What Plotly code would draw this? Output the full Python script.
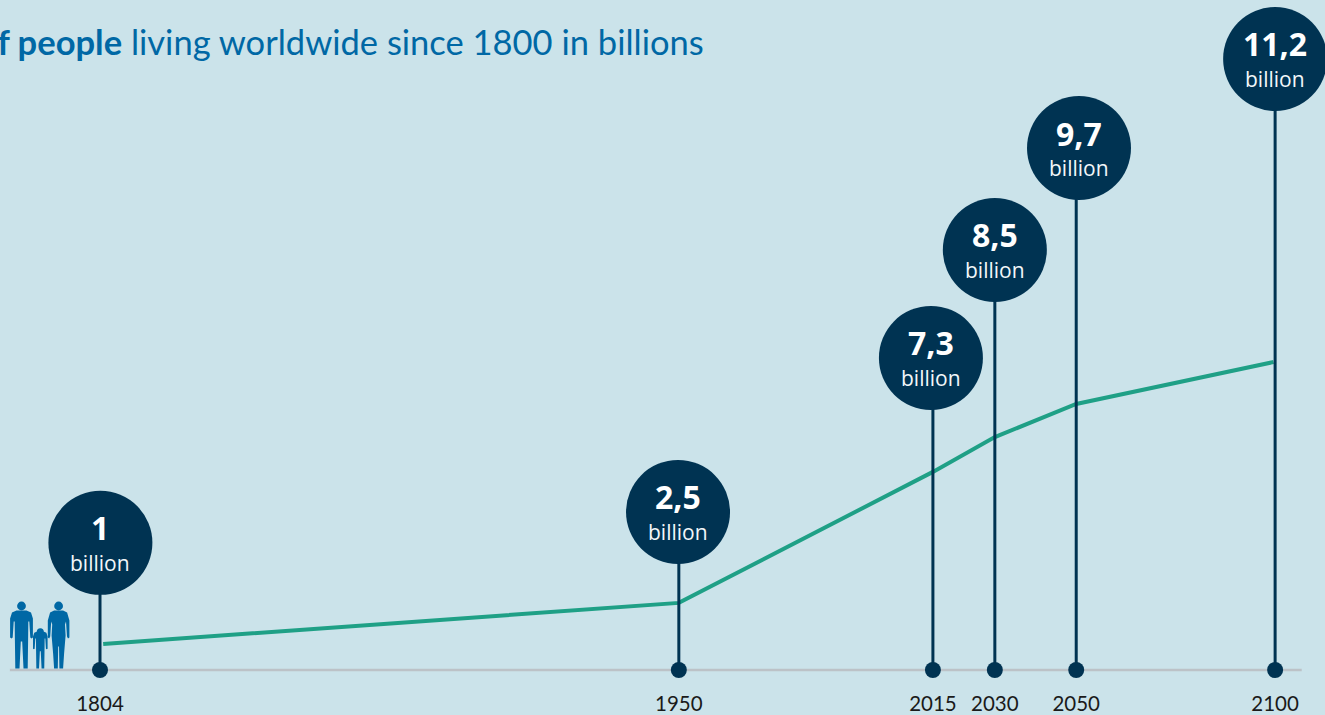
import plotly.graph_objects as go

# ---- data ----
tick_labels = ["1804", "1950", "2015", "2030", "2050", "2100"]
stem_years = [1804, 1949.8, 2013.8, 2029.4, 2049.9, 2100]
bubble_years = [1804.1, 1949.6, 2013.3, 2029.4, 2050.6, 2100]
bubble_levels = [4.64, 5.77, 11.39, 15.33, 19.05, 22.3]
bubble_values = ["1", "2,5", "7,3", "8,5", "9,7", "11,2"]
line_years = [1804.8, 1949.8, 2013.8, 2029.4, 2049.9, 2099.6]
line_billions = [0.95, 2.45, 7.23, 8.5, 9.71, 11.24]
baseline_years = [1781.3, 2106.7]
unit_label = "billion"
title_bold = "Number of people"
title_rest = " living worldwide since 1800 in billions"

# ---- style ----
W, H = 1325, 715
ZERO_PX = 670   # page row of the zero line
PLOT_H = 675    # plot area runs a little below zero so the baseline is not clipped
BG = "#cbe3ea"
NAVY = "#003352"
GREEN = "#1fa086"
BLUE = "#0068a5"
GREY = "#bcc2c7"

fig = go.Figure()
fig.add_trace(go.Scatter(x=baseline_years, y=[0, 0], mode="lines",
                         line=dict(color=GREY, width=2.5), cliponaxis=False, hoverinfo="skip"))
fig.add_trace(go.Scatter(x=line_years, y=line_billions, mode="lines",
                         line=dict(color=GREEN, width=4), hoverinfo="skip"))
for yr, lv in zip(stem_years, bubble_levels):
    fig.add_trace(go.Scatter(x=[yr, yr], y=[0, lv], mode="lines",
                             line=dict(color=NAVY, width=3), cliponaxis=False, hoverinfo="skip"))
fig.add_trace(go.Scatter(x=stem_years, y=[0] * len(stem_years), mode="markers",
                         marker=dict(color=NAVY, size=16), cliponaxis=False, hoverinfo="skip"))
fig.add_trace(go.Scatter(x=bubble_years, y=bubble_levels, mode="markers",
                         marker=dict(color=NAVY, size=104, line=dict(width=0)),
                         cliponaxis=False, hoverinfo="skip"))

annotations = []
for yr, lv, val in zip(bubble_years, bubble_levels, bubble_values):
    annotations.append(dict(x=yr, y=lv, xref="x", yref="y", text=f"<b>{val}</b>", showarrow=False,
                            yshift=15, font=dict(family="Open Sans", size=32, color="white")))
    annotations.append(dict(x=yr, y=lv, xref="x", yref="y", text=unit_label, showarrow=False,
                            yshift=-20, font=dict(family="Open Sans", size=21, color="#f2f7f9")))
annotations.append(dict(x=705.5 / W, y=1 - 42 / PLOT_H, xref="paper", yref="paper",
                        xanchor="right", yanchor="middle", showarrow=False, align="right",
                        text=f"<b>{title_bold}</b>{title_rest}",
                        font=dict(family="Lato", size=34.5, color=BLUE)))


# ---- decorative people icon, drawn as shapes; paper space spans the plot area ----
def px(x, y):
    return f"{x / W:.5f},{1 - y / PLOT_H:.5f}"


def outline(points, cx, foot, s):
    pts = [px(cx + dx * s, foot + dy * s) for dx, dy in points]
    return "M" + " L".join(pts) + " Z"


def head(cx, cy, r):
    return dict(type="circle", xref="paper", yref="paper", x0=(cx - r) / W, x1=(cx + r) / W,
                y0=1 - (cy + r) / PLOT_H, y1=1 - (cy - r) / PLOT_H, fillcolor=BLUE, line_width=0)


MAN = [(-5, -58), (-9.5, -56), (-11.4, -50), (-11.4, -31), (-10, -30), (-8.8, -31), (-7.8, -47),
       (-6.8, -47), (-6.6, -28), (-6.2, 0), (-2, 0), (-0.7, -27), (0.7, -27), (2, 0), (6.2, 0),
       (6.6, -28), (6.8, -47), (7.8, -47), (8.8, -31), (10, -30), (11.4, -31), (11.4, -50), (9.5, -56), (5, -58)]
WOMAN = [(-4.5, -58), (-8.5, -56), (-10.8, -48), (-10.8, -31), (-9.4, -30), (-8.4, -32), (-7.4, -47),
         (-6.4, -44), (-7, -33), (-5.5, -15), (-4.5, 0), (-0.8, 0), (-0.4, -22), (0.4, -22), (0.8, 0), (4.5, 0),
         (5.5, -15), (7, -33), (6.4, -44), (7.4, -47), (8.4, -32), (9.4, -30), (10.8, -31), (10.8, -48), (8.5, -56), (4.5, -58)]

shapes = []
for pts, cx, scale, hy, hr in [(MAN, 21.5, 1.0, 606, 4.4), (MAN, 40.3, 0.64, 631.7, 3.5), (WOMAN, 58.6, 1.0, 606, 4.4)]:
    shapes.append(dict(type="path", xref="paper", yref="paper", path=outline(pts, cx, 668.5, scale),
                       fillcolor=BLUE, line_width=0))
    shapes.append(head(cx, hy, hr))

px_per_year = 3.97
px_per_billion = 27.4
fig.update_layout(
    width=W, height=H, autosize=False, showlegend=False,
    margin=dict(l=0, r=0, t=0, b=H - PLOT_H),
    paper_bgcolor=BG, plot_bgcolor=BG,
    annotations=annotations, shapes=shapes,
    xaxis=dict(range=[1804 - 100 / px_per_year, 1804 + (W - 100) / px_per_year],
               tickmode="array", tickvals=stem_years, ticktext=tick_labels,
               showgrid=False, zeroline=False, showline=False, automargin=False,
               ticks="outside", ticklen=10, tickcolor="rgba(0,0,0,0)",
               tickfont=dict(family="Lato", size=20.5, color="#1a1a1a")),
    yaxis=dict(range=[(ZERO_PX - PLOT_H) / px_per_billion, ZERO_PX / px_per_billion], visible=False),
)
fig.write_html("out.html", config=dict(displayModeBar=False),
               post_script="document.body.style.margin='0';")
